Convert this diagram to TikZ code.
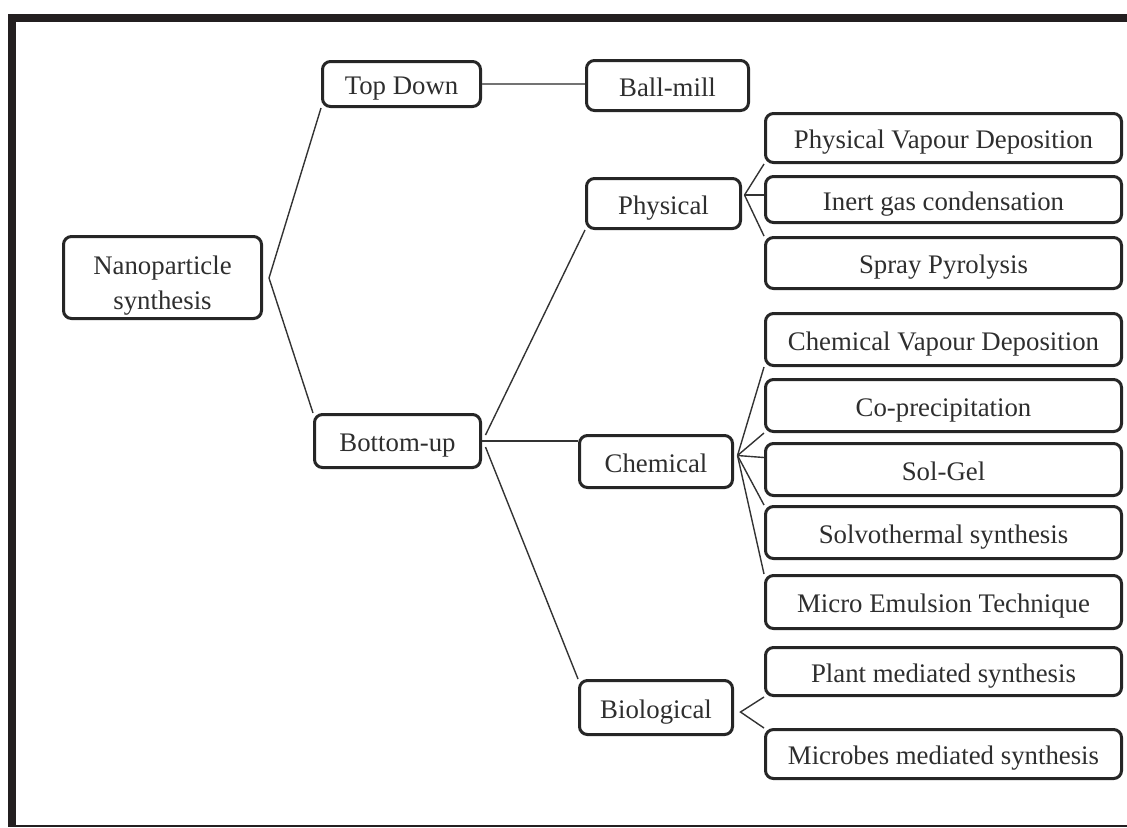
\documentclass[tikz,border=0pt]{standalone}
\usepackage{fontspec}
\setmainfont{Liberation Serif}
\usetikzlibrary{calc}
\definecolor{framecol}{HTML}{231F20}
\definecolor{boxcol}{HTML}{262626}
\definecolor{txtcol}{HTML}{2E2E2E}
\definecolor{linecol}{HTML}{333333}
\begin{document}
\begin{tikzpicture}[x=0.5pt,y=-0.5pt,
  box/.style={draw=boxcol,line width=1.5pt,rounded corners=4pt,inner sep=0pt,
    text=txtcol,font=\fontsize{13.4}{17.5}\selectfont,text height=11.5pt,text depth=1pt},
  wbox/.style={box,minimum width=178pt,minimum height=25pt},
  conn/.style={draw=linecol,line width=0.7pt},
  gconn/.style={draw=black!55,line width=1pt}]
\useasboundingbox (0,0) rectangle (1127,827);
% frame
\fill[framecol] (8,14) rectangle (1127,22);
\fill[framecol] (8,14) rectangle (16,827);
\fill[framecol] (8,825) rectangle (1127,827);
% nodes
\node[box,minimum width=99pt,minimum height=41pt,text height=,text depth=] (nano) at (162.5,277.5)
  {\raisebox{-3.5pt}[\height][\depth]{\begin{tabular}{@{}c@{}}Nanoparticle\\synthesis\end{tabular}}};
\node[box,minimum width=79pt,minimum height=22.5pt] (top) at (401.5,84) {Top Down};
\node[box,minimum width=81pt,minimum height=25pt] (ball) at (667.5,85.5) {Ball-mill};
\node[box,minimum width=77pt,minimum height=25pt] (phys) at (663.5,203.5) {Physical};
\node[box,minimum width=83pt,minimum height=26.5pt] (bu) at (397.5,441) {Bottom-up};
\node[box,minimum width=76.5pt,minimum height=26pt] (chem) at (656,461.5) {Chemical};
\node[box,minimum width=76.5pt,minimum height=27pt] (bio) at (656,707.5) {Biological};
\node[wbox,minimum height=24.5pt] (pvd) at (943.5,138) {Physical Vapour Deposition};
\node[wbox,minimum height=23pt] (igc) at (943.5,199.5) {Inert gas condensation};
\node[wbox,minimum height=25.5pt] (spray) at (943.5,263) {Spray Pyrolysis};
\node[wbox,minimum height=26pt] (cvd) at (943.5,339.5) {Chemical Vapour Deposition};
\node[wbox,minimum height=26pt] (cop) at (943.5,405.5) {Co-precipitation};
\node[wbox,minimum height=26pt] (sol) at (943.5,469.5) {Sol-Gel};
\node[wbox,minimum height=26pt] (solvo) at (943.5,532.5) {Solvothermal synthesis};
\node[wbox,minimum height=26.5pt] (micro) at (943.5,602) {Micro Emulsion Technique};
\node[wbox,minimum height=24pt] (plant) at (943.5,671.5) {Plant mediated synthesis};
\node[wbox,minimum height=24.5pt] (microbes) at (943.5,754) {Microbes mediated synthesis};
% junction points
\coordinate (nanoJ) at ($(nano.east)+(6,0.5)$);
\coordinate (buA) at ($(bu.east)+(3.5,-6)$);
\coordinate (buC) at ($(bu.east)+(3.5,6)$);
\coordinate (physJ) at ($(phys.east)+(2.5,-8.5)$);
\coordinate (chemJ) at ($(chem.east)+(3.5,-6)$);
\coordinate (bioJ) at ($(bio.east)+(6.5,4.5)$);
% connectors
\draw[conn] (top.south west) -- (nanoJ) -- (bu.north west);
\draw[gconn] (top.east) -- (ball.west |- top.east);
\draw[conn] (buA) -- (phys.south west);
\draw[conn] (bu.east) -- (chem.west |- bu.east);
\draw[conn] (buC) -- (bio.north west);
\draw[conn] (physJ) -- (pvd.south west);
\draw[conn] (physJ) -- (igc.west |- physJ);
\draw[conn] (physJ) -- (spray.north west);
\draw[conn] (chemJ) -- (cvd.south west);
\draw[conn] (chemJ) -- (cop.south west);
\draw[conn] (chemJ) -- ($(sol.west |- chemJ)+(0,2)$);
\draw[conn] (chemJ) -- (solvo.north west);
\draw[conn] (chemJ) -- (micro.north west);
\draw[conn] (plant.south west) -- (bioJ) -- (microbes.north west);
\end{tikzpicture}
\end{document}
